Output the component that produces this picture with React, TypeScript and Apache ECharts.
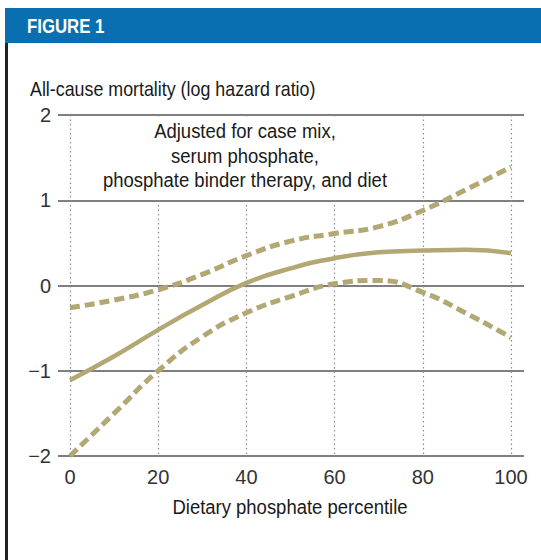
import React, { useEffect, useRef } from "react";
import * as echarts from "echarts";

const xTicks = [0, 20, 40, 60, 80, 100];
const yTicks = [-2, -1, 0, 1, 2];
const percentile = [0, 10, 20, 30, 40, 50, 60, 70, 80, 90, 100];
const estimate = [-1.11, -0.83, -0.52, -0.23, 0.03, 0.2, 0.32, 0.39, 0.41, 0.42, 0.38];
const upperCI = [-0.26, -0.17, -0.05, 0.13, 0.35, 0.52, 0.61, 0.69, 0.88, 1.13, 1.39];
const lowerCI = [-2.0, -1.5, -1.0, -0.6, -0.32, -0.13, 0.02, 0.06, -0.08, -0.33, -0.61];
const annotation = ["Adjusted for case mix,", "serum phosphate,", "phosphate binder therapy, and diet"];

const FONT = "'Liberation Sans', Arial, sans-serif";
const LINE = "#b3a774";

export default function App() {
  const ref = useRef<HTMLDivElement>(null);
  useEffect(() => {
    document.body.style.margin = "0";
    const chart = echarts.init(ref.current!, null, { renderer: "svg" });
    const pair = (ys: number[]) => percentile.map((x, i) => [x, ys[i]]);
    const txt = (t: string, x: number, y: number, align: string, font: string, sx: number, fill = "#1a1a1a") => ({
      type: "text",
      x,
      y,
      z: 20,
      scaleX: sx,
      style: { text: t, fill, font, textAlign: align, textVerticalAlign: "middle" },
    });
    const option: any = {
      animation: false,
      backgroundColor: "#ffffff",
      grid: [
        { left: 58, width: 466, top: 115, height: 341 },
        { left: 70, width: 441, top: 115, height: 341 },
      ],
      xAxis: [
        { gridIndex: 0, type: "value", min: 0, max: 100, show: false },
        {
          gridIndex: 1,
          type: "value",
          min: 0,
          max: 100,
          interval: 20,
          axisLine: { show: false },
          axisTick: { show: false },
          axisLabel: { fontFamily: FONT, fontSize: 20, color: "#333", margin: 11 },
          splitLine: { show: true, lineStyle: { color: "#8a8a9a", type: [1.5, 3], width: 1.2 } },
        },
      ],
      yAxis: [
        {
          gridIndex: 0,
          type: "value",
          min: -2,
          max: 2,
          interval: 1,
          axisLine: { show: false },
          axisTick: { show: false },
          axisLabel: {
            fontFamily: FONT,
            fontSize: 20,
            color: "#333",
            margin: 7,
            formatter: (v: number) => String(v).replace("-", "\u2212"),
          },
          splitLine: { show: true, lineStyle: { color: "#555", width: 1.6 } },
        },
        { gridIndex: 1, type: "value", min: -2, max: 2, show: false },
      ],
      series: [
        {
          type: "line",
          xAxisIndex: 1,
          yAxisIndex: 1,
          data: pair(upperCI),
          smooth: 0.5,
          symbol: "none",
          lineStyle: { color: LINE, width: 5, type: [10, 5] },
        },
        {
          type: "line",
          xAxisIndex: 1,
          yAxisIndex: 1,
          data: pair(lowerCI),
          smooth: 0.5,
          symbol: "none",
          lineStyle: { color: LINE, width: 5, type: [10, 5] },
        },
        {
          type: "line",
          xAxisIndex: 1,
          yAxisIndex: 1,
          data: pair(estimate),
          smooth: 0.5,
          symbol: "none",
          lineStyle: { color: LINE, width: 4.5 },
        },
      ],
      graphic: [
        { type: "rect", z: 10, shape: { x: 5, y: 8, width: 536, height: 35 }, style: { fill: "#0a6fb0" } },
        { type: "rect", z: 10, shape: { x: 5, y: 43, width: 3, height: 517 }, style: { fill: "#222" } },
        { type: "rect", z: 10, shape: { x: 88, y: 117, width: 318, height: 82 }, style: { fill: "#ffffff" } },
        txt("FIGURE 1", 27, 26, "left", `bold 21px ${FONT}`, 0.8, "#fff"),
        txt("All-cause mortality (log hazard ratio)", 30, 88, "left", `21px ${FONT}`, 0.85),
        ...annotation.map((t, i) => txt(t, 245, 131 + i * 24.5, "center", `21px ${FONT}`, 0.88)),
        txt("Dietary phosphate percentile", 290, 507, "center", `21px ${FONT}`, 0.88),
      ],
    };
    chart.setOption(option);
    return () => chart.dispose();
  }, []);
  return <div ref={ref} style={{ width: 541, height: 560 }} />;
}
